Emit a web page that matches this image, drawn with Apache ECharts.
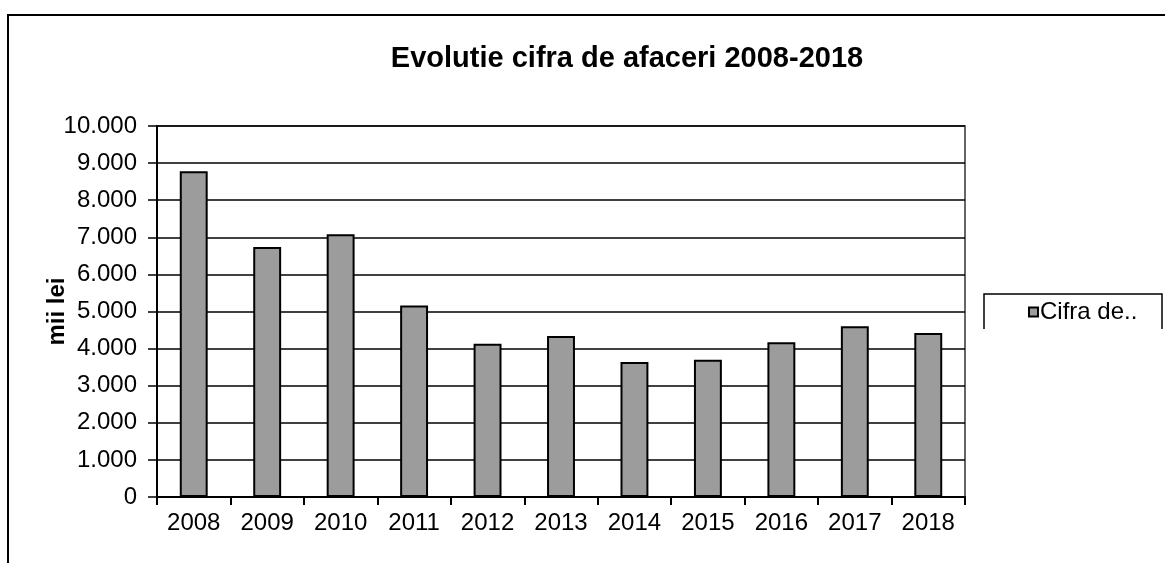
<!DOCTYPE html>
<html>
<head>
<meta charset="utf-8">
<script src="https://cdn.jsdelivr.net/npm/echarts@6/dist/echarts.min.js"></script>
<style>
  html, body { margin: 0; padding: 0; background: #fff; }
  #chart { width: 1165px; height: 563px; }
</style>
</head>
<body>
<div id="chart"></div>
<script>
// ani
const years = ['2008', '2009', '2010', '2011', '2012', '2013', '2014', '2015', '2016', '2017', '2018'];
const cifraAfaceri = [8780, 6740, 7080, 5160, 4130, 4340, 3640, 3700, 4170, 4600, 4420];
const yTicks = [0, 1000, 2000, 3000, 4000, 5000, 6000, 7000, 8000, 9000, 10000];

const fontFamily = '"Liberation Sans", Arial, sans-serif';

// 10000 -> "10.000"
function fmt(v) {
  return String(v).replace(/\B(?=(\d{3})+(?!\d))/g, '.');
}

const chart = echarts.init(document.getElementById('chart'));
chart.setOption({
  animation: false,
  backgroundColor: '#fff',
  title: {
    text: 'Evolutie cifra de afaceri 2008-2018',
    left: 622,
    top: 39,
    textAlign: 'center',
    textStyle: {
      fontFamily: fontFamily,
      fontSize: 29,
      fontWeight: 'bold',
      color: '#000',
    },
  },
  legend: {
    left: 1028,
    top: 300,
    icon: 'rect',
    itemWidth: 9,
    itemHeight: 9,
    itemGap: 0,
    padding: 0,
    textStyle: {
      fontFamily: fontFamily,
      fontSize: 24,
      color: '#000',
      padding: [0, 0, 0, -3],
    },
    data: ['Cifra de..'],
  },
  grid: {
    left: 157,
    right: 200,
    top: 126,
    bottom: 66,
    show: true,
    borderColor: '#666',
    borderWidth: 2,
  },
  xAxis: {
    type: 'category',
    data: years,
    axisLine: { lineStyle: { color: '#000', width: 2 } },
    axisTick: { show: true, length: 8, lineStyle: { color: '#000', width: 2 } },
    axisLabel: {
      margin: 14,
      fontFamily: fontFamily,
      fontSize: 24,
      color: '#000',
    },
  },
  yAxis: {
    type: 'value',
    min: yTicks[0],
    max: yTicks[yTicks.length - 1],
    interval: 1000,
    name: 'mii lei',
    nameLocation: 'middle',
    nameGap: 88,
    nameMoveOverlap: false,
    nameTextStyle: {
      fontFamily: fontFamily,
      fontSize: 24,
      fontWeight: 'bold',
      color: '#000',
    },
    axisLine: { show: true, lineStyle: { color: '#000', width: 2 } },
    axisTick: { show: true, length: 9, lineStyle: { color: '#000', width: 1.5 } },
    axisLabel: {
      margin: 20,
      fontFamily: fontFamily,
      fontSize: 24,
      color: '#000',
      formatter: (v) => fmt(v),
    },
    splitLine: { show: true, lineStyle: { color: '#000', width: 1.5 } },
  },
  series: [
    {
      name: 'Cifra de..',
      type: 'bar',
      barWidth: '38%',
      data: cifraAfaceri,
      itemStyle: {
        color: '#9c9c9c',
        borderColor: '#000',
        borderWidth: 2,
      },
    },
  ],
  graphic: [
    // chenarul exterior
    {
      type: 'polyline',
      shape: { points: [[8, 563], [8, 15], [1165, 15]] },
      style: { stroke: '#000', lineWidth: 2, fill: null },
    },
    // caseta legendei
    {
      type: 'polyline',
      shape: { points: [[984, 329], [984, 294], [1162, 294], [1162, 329]] },
      style: { stroke: '#000', lineWidth: 1.5, fill: null },
    },
  ],
});
</script>
</body>
</html>
